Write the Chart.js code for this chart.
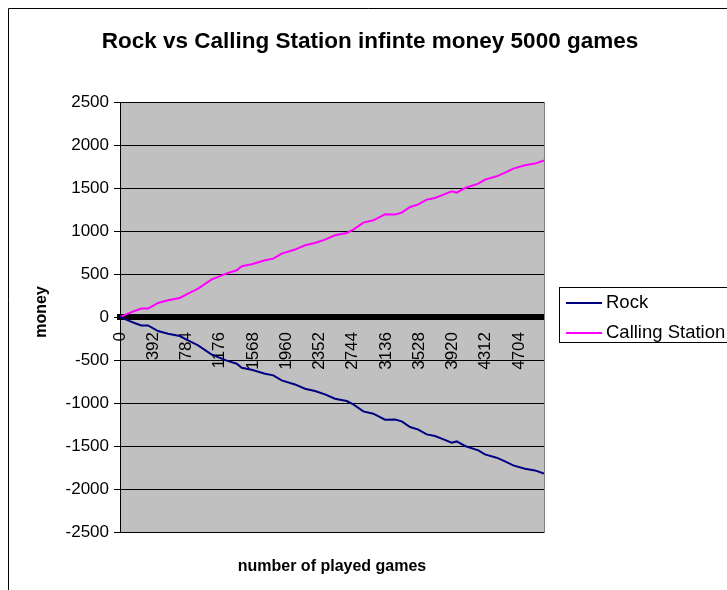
<!DOCTYPE html>
<html><head><meta charset="utf-8">
<script src="https://cdn.jsdelivr.net/npm/chart.js@4/dist/chart.umd.min.js"></script>
<style>html,body{margin:0;padding:0;background:#fff;overflow:hidden}canvas{display:block}</style>
</head><body>
<canvas id="c" width="727" height="590"></canvas>
<script>
const titleText = "Rock vs Calling Station infinte money 5000 games";
const xTitle = "number of played games";
const yTitle = "money";
const seriesNames = ["Rock", "Calling Station"];
const seriesColors = ["#000080", "#FF00FF"];

// game number of each sampled point
const games = [0, 94, 170, 251, 330, 448, 566, 704, 802, 920, 1077, 1250, 1376, 1435, 1553, 1710, 1808, 1906, 2063, 2181, 2299, 2417, 2535, 2673, 2751, 2869, 2987, 3125, 3243, 3322, 3420, 3518, 3616, 3714, 3793, 3911, 3970, 4068, 4225, 4303, 4441, 4540, 4637, 4775, 4893, 4999];
const callingStation = [0, 40, 70, 98, 98, 163, 194, 221, 272, 330, 435, 505, 543, 590, 613, 659, 679, 737, 784, 834, 860, 900, 950, 977, 1016, 1098, 1124, 1194, 1191, 1214, 1279, 1310, 1365, 1384, 1415, 1462, 1447, 1500, 1551, 1598, 1636, 1679, 1726, 1764, 1784, 1820];
const rock = [0, -40, -70, -98, -98, -163, -194, -221, -272, -330, -435, -505, -543, -590, -613, -659, -679, -737, -784, -834, -860, -900, -950, -977, -1016, -1098, -1124, -1194, -1191, -1214, -1279, -1310, -1365, -1384, -1415, -1462, -1447, -1500, -1551, -1598, -1636, -1679, -1726, -1764, -1784, -1820];

const xTickLabels = [0, 392, 784, 1176, 1568, 1960, 2352, 2744, 3136, 3528, 3920, 4312, 4704];
const yMin = -2500, yMax = 2500, yStep = 500;

const FONT = '"Liberation Sans", Arial, sans-serif';

const decor = {
  id: 'decor',
  beforeDraw(chart) {
    const ctx = chart.ctx, a = chart.chartArea;
    ctx.save();
    ctx.fillStyle = '#ffffff';
    ctx.fillRect(0, 0, chart.width, chart.height);
    ctx.strokeStyle = '#000';
    ctx.lineWidth = 1;
    ctx.beginPath();
    ctx.moveTo(8.5, chart.height + 2);
    ctx.lineTo(8.5, 8.5);
    ctx.lineTo(chart.width + 2, 8.5);
    ctx.stroke();
    ctx.fillStyle = '#C0C0C0';
    ctx.fillRect(a.left, a.top, a.right - a.left, a.bottom - a.top);
    ctx.restore();
  },
  afterDraw(chart) {
    const ctx = chart.ctx, a = chart.chartArea;
    ctx.save();
    ctx.strokeStyle = '#808080';
    ctx.lineWidth = 1;
    ctx.beginPath();
    ctx.moveTo(Math.round(a.right) + 0.5, a.top);
    ctx.lineTo(Math.round(a.right) + 0.5, a.bottom + 1);
    ctx.stroke();
    ctx.fillStyle = '#000';
    ctx.textAlign = 'center';
    ctx.textBaseline = 'middle';
    ctx.font = 'bold 22.5px ' + FONT;
    ctx.fillText(titleText, 370, 42);
    ctx.font = 'bold 16px ' + FONT;
    ctx.fillText(xTitle, (a.left + a.right) / 2, 567);
    ctx.save();
    ctx.translate(42, 312);
    ctx.rotate(-Math.PI / 2);
    ctx.fillText(yTitle, 0, 0);
    ctx.restore();
    ctx.strokeStyle = '#000';
    ctx.lineWidth = 1;
    ctx.strokeRect(559.5, 287.5, 200, 55);
    ctx.font = '18.5px ' + FONT;
    ctx.textAlign = 'left';
    chart.data.datasets.forEach((ds, i) => {
      const y = 303 + 30 * i;
      ctx.strokeStyle = ds.borderColor;
      ctx.lineWidth = 2;
      ctx.beginPath();
      ctx.moveTo(566, y);
      ctx.lineTo(602, y);
      ctx.stroke();
      ctx.fillStyle = '#000';
      ctx.fillText(ds.label, 606, y);
    });
    ctx.restore();
  }
};

new Chart(document.getElementById('c'), {
  type: 'line',
  data: {
    datasets: [
      { label: seriesNames[0], data: games.map((g, i) => ({x: g, y: rock[i]})), borderColor: seriesColors[0], borderWidth: 2, pointRadius: 0, tension: 0 },
      { label: seriesNames[1], data: games.map((g, i) => ({x: g, y: callingStation[i]})), borderColor: seriesColors[1], borderWidth: 2, pointRadius: 0, tension: 0 }
    ]
  },
  options: {
    responsive: false,
    animation: false,
    events: [],
    layout: { padding: { left: 0, top: 102, right: 183, bottom: 58 } },
    plugins: { legend: { display: false }, title: { display: false }, tooltip: { enabled: false } },
    scales: {
      x: {
        type: 'linear',
        position: { y: 0 },
        min: -0.5, max: 4999.5,
        afterBuildTicks: s => { s.ticks = xTickLabels.map(v => ({ value: v })); },
        afterFit: s => { s.paddingLeft = 0; s.paddingRight = 0; },
        ticks: { autoSkip: false, minRotation: 90, maxRotation: 90, padding: 15, color: '#000', font: { family: FONT, size: 17 }, callback: v => String(v) },
        grid: { display: true, drawOnChartArea: false, drawTicks: false },
        border: { display: true, width: 6, color: '#000' }
      },
      y: {
        type: 'linear',
        position: 'left',
        min: yMin, max: yMax,
        afterFit: s => { s.width = 120; s.paddingTop = 0; s.paddingBottom = 0; },
        ticks: { stepSize: yStep, padding: 5, color: '#000', font: { family: FONT, size: 17 }, callback: v => String(v) },
        grid: { color: '#000', lineWidth: 1, tickLength: 6, drawTicks: true },
        border: { display: true, width: 1, color: '#000' }
      }
    }
  },
  plugins: [decor]
});
</script>
</body></html>
